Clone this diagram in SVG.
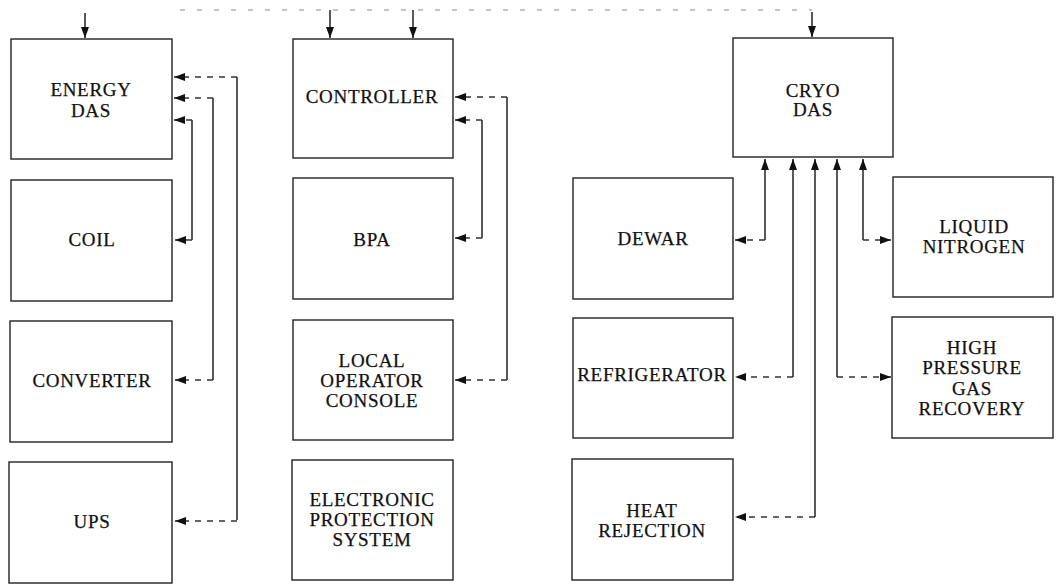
<svg xmlns="http://www.w3.org/2000/svg" width="1061" height="584" viewBox="0 0 1061 584">
<style>
.box{fill:#fff;stroke:#222;stroke-width:1.4}
.t{font-family:"Liberation Serif","Times New Roman",serif;font-size:19px;fill:#111;text-anchor:middle;letter-spacing:0.7px;stroke:#111;stroke-width:0.25}
.v{stroke:#222;stroke-width:1.5;fill:none}
.h{stroke:#333;stroke-width:1.3;fill:none;stroke-dasharray:6 6}
.top{stroke:#888;stroke-width:1;fill:none;stroke-dasharray:5 12}
</style>
<defs>
<marker id="ah" markerUnits="userSpaceOnUse" markerWidth="11" markerHeight="9" refX="11" refY="4.5" orient="auto">
<path d="M0,0.5 L11,4.5 L0,8.5 z" fill="#111"/>
</marker>
</defs>
<rect width="1061" height="584" fill="#fff"/>

<g id="energy-das"><rect class="box" x="11" y="39" width="161" height="120"/><text class="t" x="91" y="96">ENERGY</text><text class="t" x="91" y="117">DAS</text></g>
<g id="coil"><rect class="box" x="11" y="180" width="161" height="121"/><text class="t" x="92" y="246">COIL</text></g>
<g id="converter"><rect class="box" x="10" y="321" width="162" height="121"/><text class="t" x="92" y="387">CONVERTER</text></g>
<g id="ups"><rect class="box" x="9" y="462" width="163" height="121"/><text class="t" x="92" y="528">UPS</text></g>

<g id="controller"><rect class="box" x="293" y="39" width="160" height="119"/><text class="t" x="372" y="103">CONTROLLER</text></g>
<g id="bpa"><rect class="box" x="293" y="178" width="160" height="121"/><text class="t" x="372" y="246">BPA</text></g>
<g id="local-operator-console"><rect class="box" x="293" y="320" width="160" height="120"/><text class="t" x="372" y="367">LOCAL</text><text class="t" x="372" y="387">OPERATOR</text><text class="t" x="372" y="407">CONSOLE</text></g>
<g id="electronic-protection-system"><rect class="box" x="292" y="460" width="161" height="120"/><text class="t" x="372" y="506">ELECTRONIC</text><text class="t" x="372" y="526">PROTECTION</text><text class="t" x="372" y="546">SYSTEM</text></g>

<g id="cryo-das"><rect class="box" x="733" y="38" width="160" height="119"/><text class="t" x="813" y="97">CRYO</text><text class="t" x="813" y="116">DAS</text></g>
<g id="dewar"><rect class="box" x="573" y="178" width="160" height="121"/><text class="t" x="653" y="245">DEWAR</text></g>
<g id="refrigerator"><rect class="box" x="573" y="318" width="160" height="120"/><text class="t" x="652" y="381">REFRIGERATOR</text></g>
<g id="heat-rejection"><rect class="box" x="572" y="459" width="161" height="121"/><text class="t" x="652" y="517">HEAT</text><text class="t" x="652" y="537">REJECTION</text></g>
<g id="liquid-nitrogen"><rect class="box" x="893" y="177" width="160" height="120"/><text class="t" x="974" y="233">LIQUID</text><text class="t" x="974" y="253">NITROGEN</text></g>
<g id="high-pressure-gas-recovery"><rect class="box" x="892" y="317" width="161" height="121"/><text class="t" x="972" y="354">HIGH</text><text class="t" x="972" y="374">PRESSURE</text><text class="t" x="972" y="395">GAS</text><text class="t" x="972" y="415">RECOVERY</text></g>

<g id="connectors">
<path class="top" d="M180,10 H812"/>
<path class="v" d="M85,13 V38" marker-end="url(#ah)"/>
<path class="v" d="M330,10 V38" marker-end="url(#ah)"/>
<path class="v" d="M413,10 V38" marker-end="url(#ah)"/>
<path class="v" d="M812,12 V37" marker-end="url(#ah)"/>

<path class="v" d="M237,77 V520"/>
<path class="h" d="M237,77 H174" marker-end="url(#ah)"/>
<path class="h" d="M237,521 H175" marker-end="url(#ah)"/>
<path class="v" d="M213,98 V380"/>
<path class="h" d="M213,98 H174" marker-end="url(#ah)"/>
<path class="h" d="M213,380 H175" marker-end="url(#ah)"/>
<path class="v" d="M192,120 V240"/>
<path class="h" d="M192,120 H174" marker-end="url(#ah)"/>
<path class="h" d="M192,240 H175" marker-end="url(#ah)"/>

<path class="v" d="M507,97 V380"/>
<path class="h" d="M507,97 H455" marker-end="url(#ah)"/>
<path class="h" d="M507,380 H455" marker-end="url(#ah)"/>
<path class="v" d="M482,120 V238"/>
<path class="h" d="M482,120 H455" marker-end="url(#ah)"/>
<path class="h" d="M482,238 H455" marker-end="url(#ah)"/>

<path class="v" d="M765,240 V159" marker-end="url(#ah)"/>
<path class="h" d="M765,240 H735" marker-end="url(#ah)"/>
<path class="v" d="M793,377 V159" marker-end="url(#ah)"/>
<path class="h" d="M793,377 H735" marker-end="url(#ah)"/>
<path class="v" d="M815,517 V159" marker-end="url(#ah)"/>
<path class="h" d="M815,517 H735" marker-end="url(#ah)"/>
<path class="v" d="M837,377 V159" marker-end="url(#ah)"/>
<path class="h" d="M837,377 H891" marker-end="url(#ah)"/>
<path class="v" d="M863,240 V159" marker-end="url(#ah)"/>
<path class="h" d="M863,240 H891" marker-end="url(#ah)"/>
</g>
</svg>
